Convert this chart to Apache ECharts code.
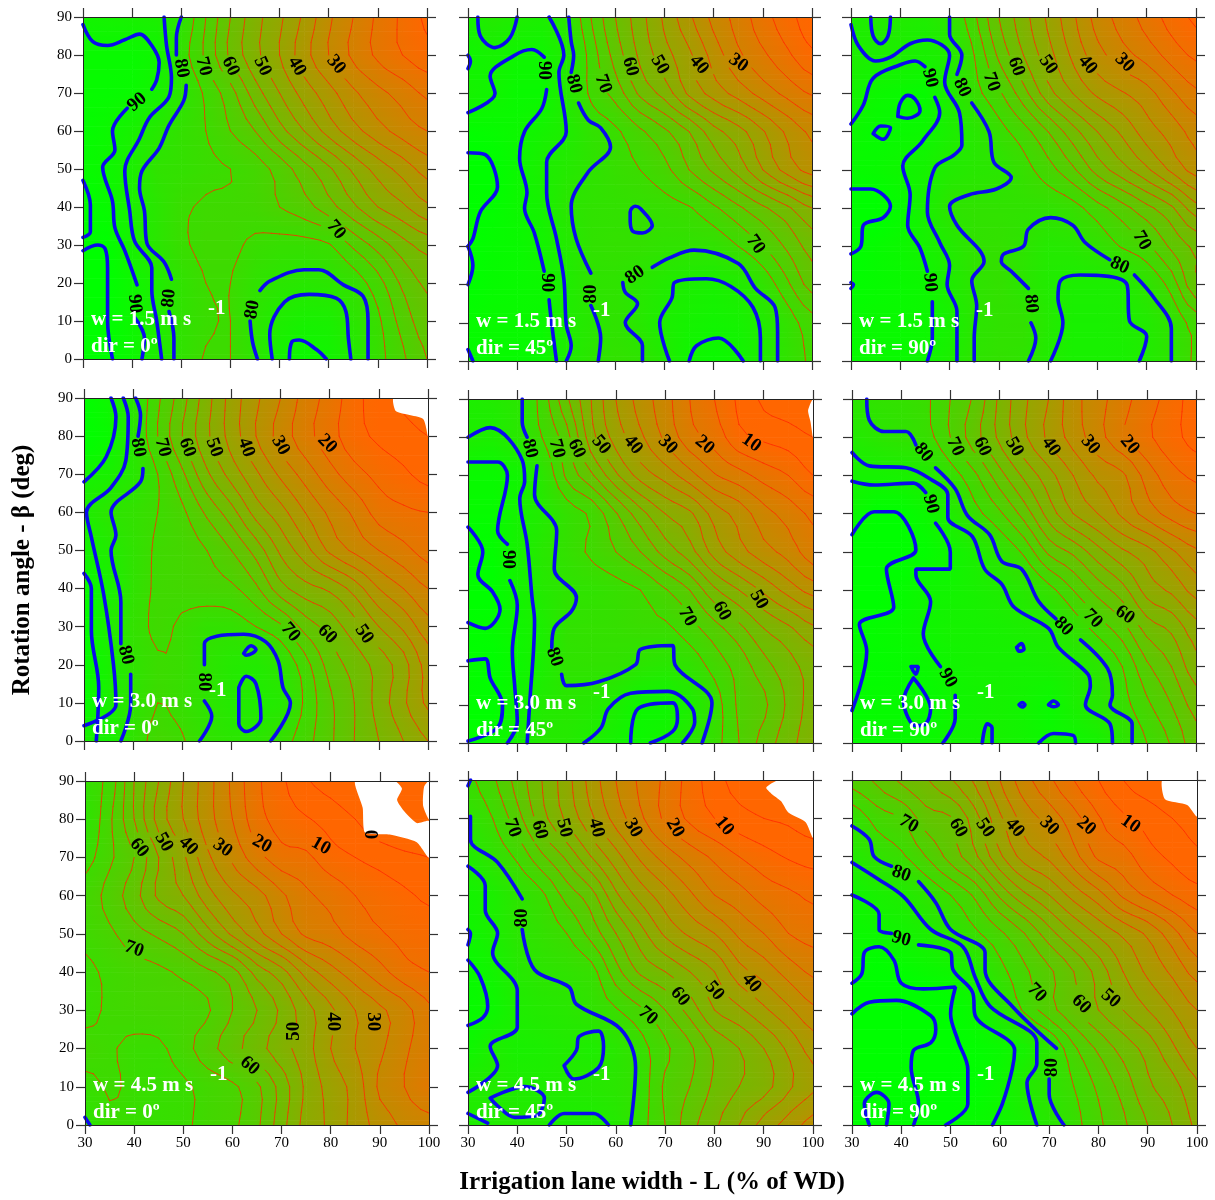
<!DOCTYPE html>
<html><head><meta charset="utf-8">
<script src="https://cdn.jsdelivr.net/npm/echarts@6/dist/echarts.min.js"></script>
<style>html,body{margin:0;background:#fff}#c{width:1215px;height:1200px}</style></head>
<body><div id="c"></div>
<script>
// Value grids: rows at beta = 90..0, columns at L = 30..100
const widths=[30,35,40,45,50,55,60,65,70,75,80,85,90,95,100];
const angles=[90,80,70,60,50,40,30,20,10,0];
const xTicks=[30,40,50,60,70,80,90,100];
const yTicks=[0,10,20,30,40,50,60,70,80,90];
const windSpeeds=['1.5','1.5','1.5','3.0','3.0','3.0','4.5','4.5','4.5'];
const windDirs=['0','45','90','0','45','90','0','45','90'];

const field1=[
[89,88,87,86,80,70,60,52,46,39,31,25,19,14,9],
[92,92,92,90,78,69,59,51.5,45,37,30,24,19,15,12],
[93,93,92,88,81,74,67,57.5,50,43,37,31,26.5,23,19],
[94,91,87,83,78,75,70,65,57,50,43,37,32,28,25],
[93,90.5,86,79,78,76,75,72.5,68,62,56,49,43,38,33],
[97,92,86,81,76,74.5,74,73,70,67,62,56,50,46,41],
[96,95,87,81,76,74,74,76,77,77,75.5,69,63,57,53],
[96,95,90.5,85,79,75,75,79,81,82,81,78,72,64,59],
[97,95.5,90.5,86,79,76,75,80.5,85,87,86.5,81,76,68,62],
[98,96,91,85,79,74.5,75,80,88,92,89,84,77,71,65]];
const field2=[
[87,83,85,86,81,70,60,52,44,36,28.5,23,17,12,7],
[90,88,90,90,84,73,63,54,47,41,33,26,21,16,11],
[88,89.5,92,92,83,74,68,59,53,44,38,33,28,23.5,19.5],
[94,93,91,88,85,79,76,71,66,60,52,47,40.5,34,29],
[98,95.5,91,86,83,80,77,75,71.5,65,59,53,45,38,33],
[98,94,91,88,81,79,78.5,78,77,75.5,71,66,61,56,50],
[95,93,92,89,84,79,78,78,79,79,79,75,70,64,58],
[95,93,92,91,85,80,79.5,82,84,86,87,85,79,71,63],
[93,92,92,92,85,82,79.5,82,86,88,89,88,84.5,78,72],
[94,93,93,92,85,81,78.5,79.5,84,90,92,90,84.5,79,74]];
const field3=[
[87,83,84,85,80,71,60,52,44,36,28,23,18,13,9],
[85.5,86,86,87,85,75,64,55,47,39,32,27,23,18,14],
[88,91,92,93,85,77,71,62,52,45,39,35.5,32,26,21],
[91,93,92,91,86,82,77,72,65,57,50,44,37.5,33,28],
[93,92,90,88,84,82,81,77,72,66,58,52,46,39,33],
[97,97,93,87,80,79,79,79,79,77,72,67,61.5,56,47],
[96,93,91,88,84,79,78,80,83,82,79,74.5,71,64,59],
[94,93,92,91,85,80,78,81,84,86,86,85.5,80,73,61],
[93,92,92,91,88,81,79,78.5,83,87,87,86,84,79,73],
[93,92,92,90.5,86,80,78.5,79.5,84.5,87,87,87,84.5,80,74]];
const field4=[
[97,90,81,71,62,52,43,36,30,23,18,12,7,4,2],
[98,92,81,70,60,51,43,35,28,22,17,12,9,7,5],
[88,87,82,75,66,56,48,41,34,28,22,17,13.5,11,8],
[85.5,80.5,78,75,71,64,57,48,42,35,29,24,18,16,15],
[89,84,79,74,72.5,70,65,58,49,42,34,29,25,21.5,18],
[93,88,79,74,73,72,71,66,57,52,49,43,35,30,25],
[96,84,78,74,76,78.5,78,75,71,63,58,52,45,39,32],
[93,87,79,75.5,76,80,83,84,80,72,63,58,53,47,38],
[94,86,80,75,77,80,83,85,83,74,66,60,53,46,39],
[86,88,79,73,74.5,79,81,81,77.5,72,66,60,55,50,45]];
const field5=[
[86,84,81.5,73,61,50,40,33,27,20,15,9,4,2,0],
[85,86,81.5,75,67,52,43,36,29,22,18,11.5,9,7.5,5],
[92,92,90,81,69,61,51,43,38,32,25.5,22,18,15,10],
[93,93,88,84,78,74,65.5,57,50,46,38,33,27,23,19],
[98,94,88,82,78,74,70,65,58,52,43,37,32,28,22],
[99,96,89,83,80,79,77,75,70.5,65,56,50,44,38,33],
[97,93,90,86,79,78,77.5,76,76,72,67,61.5,55,51,46],
[93,96,91,86,79.5,79,79,81,82,79,73,68,62,57,53],
[95,96,90,84,82,83,85.5,90.5,91,86,78,69,66,59,53],
[95,92,88,83,83,85.5,88,91,88,82,77,70,63,57,52]];
const field6=[
[81,79,78,76,70,64,54,46,40,32,27,22,17,13,7],
[84,81,79,77,70,62,54,46,39,33,27,21,16,12,8],
[88,88,87,85,78,71,62,54,47,40,34,31,23,17,14],
[91,95.5,95,91,85,77,71,63,53,45,40,34,28,23,20],
[97,97,97,94,90,86,80,74,64,59,52,46,42,36,31],
[97,97,93.5,90,89,87,85,82,77,70,63,57,48,44,38],
[96,93,92,90,88,88,87,86,85,79,73,67,58,54,47],
[93,94,93,91.5,89.5,88,88,88,87,85.5,81,75,66,60,52],
[95,93,93,94,90.5,89,88,89,92,86.5,82,77,71,65,58],
[93,93,93,92,89,89,88,89,91,90.5,88,81,75,69.5,62]];
const field7=[
[78,73,60,50,40,32,24,16,11,5.5,3,0,0,0,0],
[80,71,60,48,40,32,25,17,13,10.5,8,5,1,0.5,3],
[77,71,65,55,46,36,29,22,17,16,12,10,8,6,5],
[73,68,62,54,50,42,36,32,26,21,18.5,15,13,11,9],
[74,71,67,64,60,52,44,37,30,24,22,18,15.5,13.5,12.5],
[76,74,72,71,69,66,62,53,47,38,32,27,22,17,15],
[77,74,73,72,72,70.5,65,60,54,47,41,35,31,27,21],
[73,74.5,76,76,72,67,62,57,52,47,40,35,31,26,22],
[77,74.5,76,77,76,73,71,66,58,49,43,38,29,25,20],
[81,76,77,77,76,73,71,66,57,48,44,38,33,29,27]];
const field8=[
[76,71,63,55,47,38,30,24,19,13,7,3,1,0,0],
[80,75,67,57,49,41,33,26,19,14,10,7,5,4,2],
[85,79,74,66,59,50,42,34,28,23,19,15,12,9.5,8],
[89,86,80,76,68,62,51,43,37,31,25,22,18,16,14],
[90,86,81,78,75,68,60,52,44,39,35,29,25,20,18],
[93,89,83,80.5,79,77,67,59,55,50,45,37,33,28,24],
[93,91,85,83,82,79,75.5,71,65,58,50,46,41,36,31],
[91,85,87,86,84,85.5,81.5,77,71,66,59,55,50,44,38],
[84,84,85,85,84,82.5,81,78,69,65,59,55,52,46,41],
[85,84.5,83,84,86,86,83,77,70,62,56,50,43,38,33]];
const field9=[
[68,64,59,55.5,50.5,44,35,27,21,15,10,5,2,0,0],
[79,73,70,62.5,60.5,52,41,33,28,22,15.5,11,8,5,3],
[84,79,76,70,63,56,46,38,34,27,19,17,12,9,6],
[90,87,85,80,75,69,59,51,45,38,32,24,19,15,12],
[92,90.5,89,86,81,76,71,65,57,50,44,39,34,27,20],
[94,96.5,94,92,90.5,85.5,77,71,66,60,53,45,39,34,28],
[100,102,102,99,95.5,91,83,74,67,61,55,50,45,40,35],
[98,98,100,98,97,94,92,88,81,71,64,58,53,46,40],
[97,100,100,98,97,95,91,84,80,75,69,63,56,52,46],
[96,100,98,100,95,92,90.5,87,82,77,71,66,60,55,49]];

// Thick contour lines (levels 80 and above), flat lists of L, beta pairs
const blue1=[
[30,88,32,83.5,35,82.5,38.5,84,41.5,85.5,44,82.5,45.5,78,45,73.5,44,71],
[39,66,36,60,36.5,55,34,50.5,36,41.5,36.5,34.5,38.5,28.5,41,19.5],
[40.5,11,42.5,5.5,42,0],
[46.5,90,47,82.5,48,74,47.5,69,43.5,63.5,41.5,58,38.5,49.5,39.5,39,40.5,31,44,24,44,18,45,10,46,0],
[50,90,49,84.5,49,80],
[51,72,50.5,68,47.5,61.5,45.5,55.5,42,49.5,41.5,45,42.5,39,43,30.5,46.5,25.5,48,21],
[47.5,12.5,48.5,5.5,48.5,0],
[66,18,68,20.5,75,23.5,78,23.5,83,19.5,87,16.5,88,10,88,0],
[64,10,64.5,4.5,65.5,0],
[68.5,0,68,6.5,71,15,76,17,81.5,16,83.5,12.5,84,5.5,84.5,0],
[72,0,72.5,4.5,74,5,77.5,2.5,79.5,0],
[30,47,31.5,40.5,31.5,33.5,30,32],
[30,28.5,33,30,34.5,29,35,24,35,10,36,0]];
const blue2=[
[30,65,35.5,70,34.5,74.5,39.5,80,43,81.5,45.5,79.5],
[46,71,45,66,41.5,60,40.5,53,42,44,41.5,40,43.5,33.5,45.5,23.5],
[46.5,16,47,10,48,0],
[46.5,90,49.5,80,48.5,75.5,50,60,46,52,46,44,48,32,49.5,21.5,50,9.5,51,4,50,0],
[50.5,90,51,83.5,51.5,80,51,75.5],
[52.5,67.5,54.5,63,57,61,59,56,54.5,49.5,51,40.5,52,32,55,23],
[55,14.5,57,6,56.5,0],
[30,54.5,33.5,54,36,45.5,32.5,39,31,32,30,30],
[30,30,31,25,30,20],
[32,90,32.5,85,35.5,82,38.5,84.5,40,90],
[30,80,30.5,78.5,30,76.5],
[63,36.5,63,39,64,40.5,65,40,67.5,35.5,65.5,33.5,63.5,34,63,36.5],
[67.5,24.5,71,27,76,29,85,25.5,88.5,19,92.5,14,93,7.5,93,0],
[61.5,20.5,62,18,64.5,15,62,10,65.5,4,65.5,0],
[71,0,69,10,71.5,16.5,72,20.5,78.5,21.5,83.5,19.5,88,14,89.5,6,89.5,0],
[75,0,76.5,4,81,6,86,0],
[30,3,31,0]];
const blue3=[
[34,90,34.5,85,36,83,37.5,85,38,90],
[30,88,31.5,82.5,35,78.5,38,79.5,42,83,45.5,84,50,80,49,73,52,65,52.5,56.5,51,54,47,50.5,45.5,39,48,31,50,25,49.5,20,51.5,13,51.5,0],
[30,62,32.5,67,34.5,74,40,77.5,43,78.5,45,77],
[47,69,48,65,44.5,57.5,40.5,51,42,43.5,41.5,35.5,44,29.5,45.5,23.5],
[46.5,15.5,46.5,6,45.5,0],
[50,90,50,85.5,52.5,80,51.5,75],
[54.5,67.5,58,60,59,52,62.5,48,59.5,45,54,43.5,50,40.5,51.5,35.5,57,26,54.5,21,55.5,14.5,55,6,55,0],
[39.5,64,40,67.5,41.5,69.5,43,68.5,44,65.5,41.5,63.5,39.5,64],
[34.5,59.5,36,61.5,38,61,36.5,58,34.5,59.5],
[30,45,34,45,38,40.5,36.5,37.5,32.5,35.5,32,30,30,28],
[82.5,26.5,77.5,31,75,35.5,70.5,37.5,66,34.5,65,30,61,28,60.5,26,62.5,23.5,66,19],
[66.5,10,67.5,6,66,0],
[87.5,22.5,91.5,16.5,95,8.5,95,0],
[70.5,0,73,10,72,16.5,72.5,21,76.5,22.5,86,20,86.5,10.5,90,6.5,88.5,0],
[30,20.5,30.5,20,30,19]];
const blue4=[
[35.5,90,36.5,85,34.5,74.5,30,68],
[38,90,39,85,38.5,73.5,35.5,66.5,30.5,60,31.5,53.5,34,38.5,36,20,36.5,9.5,30,4],
[40.5,90,41.5,85.5,41,80],
[42,71.5,41.5,68,35.5,60,36.5,54,35.5,50,37.5,36.5,37.5,25.5],
[39.5,17.5,39.5,9.5,37.5,0],
[30,44,31.5,40,31.5,29,33,14,32.5,0],
[54.5,20,54.5,25.5,57,27.5,62.5,28,67,26,69.5,21,70.5,14,72,10,68,0],
[54.5,10.5,56,6.5,53.5,0],
[61.5,14,63,17,65,15,66,6,63,2.5,61.5,4.5,61.5,10.5,61.5,14],
[62.5,23,64,25,65,24,63,22.5,62.5,23]];
const blue5=[
[30,80,34.5,82.5,41,74,41.5,68.5,40.5,64,42,52,43,38,43.5,32,42.5,10,42,0],
[30,73.5,36,73.5,38,70,36,55.5,38,52],
[38.5,42.5,40,36,39,24,39.5,14.5,40,5.5,38,0],
[30,56.5,33,50,32,44,35,39.5,36.5,35,33.5,30,30,31.5],
[30,21.5,33.5,22,34.5,17,37,10,36,4,30,0.5],
[41,90,41,84,42,80],
[44,72.5,43.5,65,48,55.5,47.5,45.5,52,38,51,34.5,47.5,30,47,25],
[49,18,50,15,56.5,16,64,20.5,65,24.5,71.5,25.5,72,20.5,79.5,10.5,77.5,0],
[53.5,0,57,4,58.5,9,63,13,70.5,13.5,75.5,9,76,5.5,73.5,0],
[63,0,64.5,9,71.5,10.5,72.5,6.5,71.5,3,67,0]];
const blue6=[
[33,90,33.5,84.5,36.5,81.5,41,81.5,43,78],
[47,72,51,66.5,53.5,59.5,58,54.5,60.5,47.5,64.5,45.5,68,37,71.5,32.5],
[76.5,27,82,19.5,83,12.5,82.5,10,87,5,87,0],
[30,76,33.5,72.5,41,72,46,69,49.5,65,49.5,59,54.5,54,57,45.5,60.5,41.5,63,35.5,70,30,72,25,78,18,78.5,15,77.5,10,82.5,5,83,0],
[30,68.5,34.5,67.5,42.5,68,45,65.5],
[47,57.5,50,50,50,45.5,43,45.5,43,44,46,37,44.5,28.5,48,20],
[51,12.5,51,6.5,48.5,0],
[30,54.5,34.5,60.5,38.5,60.5,43,50.5,37,45.5,38.5,35.5,31.5,31,33,24,30,8.5],
[42,20,43.5,20,43,18,42,20],
[42.5,17,40.5,11,43,4.5,45,5,46,9,42.5,17],
[63.5,25,64.5,26,65,24.5,64,24,63.5,25],
[64,10,64.6,10.6,65.2,10,64.6,9.4,64,10],
[70,10,71,11,72,10,71,9.5,70,10],
[56.5,0,57.5,5,58.5,4,58.5,0],
[68,0,71,2.5,75,2,75.5,0]];
const blue7=[[30,2,31,0]];
const blue8=[
[30,88.5,30.5,90],
[30.5,80.5,30.5,74.5,36,68.5,41,59],
[41,51,43.5,40.5,50.5,36,52,31.5,61,25,64,15,63,0],
[30,67.5,33.5,62.5,33.5,56,36,50,35,45,40,35,40,25.5,34.5,20.5,36,15.5,30,8.5],
[30,43,32.5,38.5,34,31,33,28,30,26],
[30,51,30.5,50,30,47],
[49.5,15.5,52,19.5,52.5,23,56.5,24.5,57.5,20.5,56.5,15,51.5,12,49.5,15.5],
[34.5,7,41.5,10,45.5,7,44,2.5,39.5,2,36,5,34.5,7],
[30,3,34,0.5],
[46.5,0,49.5,3,55.5,3,58.5,0]];
const blue9=[
[30,78,33.5,74.5,34.5,70,38,67.5],
[43.5,63.5,47,58,50,51,57,45,57,40.5,62.5,31,71.5,20],
[70,12,70,8,73,0],
[30,68.5,35.5,64,40.5,59.5,46,51,52.5,46.5,55,38.5,58,31,67.5,21.5,67.5,16,65.5,11,67.5,0],
[30,60,35.5,55,35.5,51,38,50],
[43.5,47,50,45,50.5,40.5,54.5,34.5,55,28.5,63,19.5,62.5,14.5,60.5,5.5,58.5,0],
[30,37,32,39.5,32.5,45,35.5,46.5,38.5,43,40,37,44.5,35.5,51,36,50,29,51.5,22,53.5,14.5,53.5,5.5,49,0],
[30,29,33.5,32,39,32.5,46,28.5,47,25,46,21.5,42.5,19.5,42,15,43.5,5.5,42.5,0],
[33.5,0,32.5,5.5,35,8.5,37.5,5.5,37,0]];

// Contour labels: L, beta, text, rotation in degrees
const labels1=[[41,67.6,'90',40],[50,76.5,'80',-80],[54.5,77,'70',-75],[60,77,'60',-65],[66.5,77,'50',-65],[73.5,77,'40',-60],[81.5,77.5,'30',-50],[81.5,34,'70',-50],[40.5,14.5,'90',-85],[47.5,16,'80',85],[64.5,13,'80',80]];
const labels2=[[45.5,76,'90',-90],[51.5,72.5,'80',-75],[57.5,72.5,'70',-70],[63,77,'60',-75],[69,77.5,'50',-60],[77,77.5,'40',-50],[85,78,'30',-35],[88.5,30.5,'70',-55],[46,20.5,'90',-90],[55,17.5,'80',90],[64,22.5,'80',35]];
const labels3=[[46,74,'90',-75],[52.5,71.5,'80',-65],[58.5,73,'70',-70],[63.5,77,'60',-70],[70,77.5,'50',-55],[78,77.5,'40',-50],[85.5,78,'30',-45],[89,31.5,'70',-60],[84.5,25,'80',-25],[46,20.5,'90',-85],[66.5,15,'80',-85]];
const labels4=[[41,77,'80',-80],[46,77,'70',-75],[51,77,'60',-70],[56.5,77,'50',-70],[63,77,'40',-70],[70,77.5,'30',-60],[79.5,78,'20',-45],[72,28.5,'70',-50],[79.5,28,'60',-45],[87,28,'50',-55],[38.5,22.5,'80',-75],[54.5,15.5,'80',-90]];
const labels5=[[42.5,77,'80',-75],[48,77,'70',-75],[52,77,'60',-65],[57,78,'50',-50],[63.5,78,'40',-50],[70.5,78,'30',-45],[78,78,'20',-40],[87.5,78.5,'10',-35],[38,48,'90',-90],[74.5,33,'70',-60],[81.5,34.5,'60',-60],[89,37.5,'50',-60],[47.5,22.5,'80',-70]];
const labels6=[[44.5,76,'80',-50],[51,77.5,'70',-65],[56.5,77.5,'60',-65],[63,77.5,'50',-60],[70.5,77.5,'40',-55],[78.5,78,'30',-50],[86.5,78,'20',-50],[46,62.5,'90',-75],[73,30.5,'80',-45],[79,32.5,'70',-45],[85.5,33.5,'60',-35],[49.5,17,'90',-60]];
const labels7=[[41,72.5,'60',-50],[46,74,'50',-60],[51,73,'40',-45],[58,72.5,'30',-35],[66,73.5,'20',-30],[78,73,'10',-30],[88,76,'0',-90],[40,46,'70',-20],[63.5,15.5,'60',-40],[72.5,24.5,'50',90],[80.5,27,'40',-90],[88.5,27,'30',-90]];
const labels8=[[39,77.5,'70',-70],[44.5,77,'60',-75],[49.5,77.5,'50',-75],[56,77.5,'40',-75],[63.5,77.5,'30',-60],[72,77.5,'20',-60],[82,78,'10',-50],[41,54,'80',90],[66.5,28.5,'70',-40],[73,33.5,'60',-50],[80,35,'50',-50],[87.5,37,'40',-50]];
const labels9=[[41.5,78.5,'70',-30],[51.5,77.5,'60',-60],[57,77.5,'50',-55],[63,77.5,'40',-50],[70,78,'30',-45],[77.5,78,'20',-40],[86.5,78.5,'10',-35],[40,65.5,'80',-20],[40,48.5,'90',-15],[67.5,34.5,'70',-45],[76.5,31.5,'60',-45],[82.5,33,'50',-40],[70.5,15,'80',90]];

// Areas left empty in the plot (values under 0), L, beta pairs
const blank4=[[93,90,93.5,86.5,99,84.5,100,80,100,90]];
const blank5=[[100,90,99,87,99.5,84,100,80]];
const blank7=[[85,90,86.5,83,87,76.5,92,76,97.5,74,100,70,100,79.5,97.5,79,95,82,93.5,85,94.5,88,93,90],[100,90,99,88.5,98.8,83.5,100,80]];
const blank8=[[93,90,90.5,88,91.5,86.5,93.5,84.5,95,81.5,98.5,79,100,75,100,90]];
const blank9=[[93,90,93.5,85,98,83.5,100,80.5,100,90]];

const fields=[field1,field2,field3,field4,field5,field6,field7,field8,field9];
const blues=[blue1,blue2,blue3,blue4,blue5,blue6,blue7,blue8,blue9];
const labelSets=[labels1,labels2,labels3,labels4,labels5,labels6,labels7,labels8,labels9];
const blanks=[[],[],[],blank4,blank5,[],blank7,blank8,blank9];
const redLevels=[5,10,15,20,25,30,35,40,45,50,55,60,65,70,75];

// panel rectangles
const boxes=[[83,17,344,342],[468,17,344,344],[851,17,345,344],
             [84,398,344,343],[468,399,345,344],[852,399,344,344],
             [85,781,344,344],[468,780,345,345],[852,780,345,345]];
const SERIF='"Liberation Serif","Times New Roman",serif';

function colorOf(v){const t=Math.max(0,Math.min(1,(v-10)/85));
  return 'rgb('+Math.round(255*(1-t))+','+Math.round(102+153*t)+',0)';}

function cr(a,b,c,d,t){return b+0.5*t*(c-a+t*(2*a-5*b+4*c-d+t*(3*(b-c)+d-a)));}
function sampleField(F,r,c){
  const R=F.length-1,C=F[0].length-1,r0=Math.min(Math.floor(r),R-1),c0=Math.min(Math.floor(c),C-1),tr=r-r0,tc=c-c0;
  const g=(i,j)=>F[Math.max(0,Math.min(R,i))][Math.max(0,Math.min(C,j))];
  const row=i=>cr(g(i,c0-1),g(i,c0),g(i,c0+1),g(i,c0+2),tc);
  return cr(row(r0-1),row(r0),row(r0+1),row(r0+2),tr);
}
const REF=3;
function refine(F){const out=[];for(let i=0;i<=9*REF;i++){const a=[];for(let j=0;j<=14*REF;j++)a.push(sampleField(F,i/REF,j/REF));out.push(a);}return out;}
const refined=fields.map(refine);

function cellSegments(G,i,j,lev){
  const a=G[i][j],b=G[i][j+1],c=G[i+1][j+1],d=G[i+1][j];
  const pts=[];const cross=(p,q)=>(lev-p)/(q-p);
  if((a<lev)!==(b<lev))pts.push([j+cross(a,b),i]);
  if((b<lev)!==(c<lev))pts.push([j+1,i+cross(b,c)]);
  if((d<lev)!==(c<lev))pts.push([j+cross(d,c),i+1]);
  if((a<lev)!==(d<lev))pts.push([j,i+cross(a,d)]);
  const segs=[];
  if(pts.length>=2)segs.push([pts[0],pts[1]]);
  if(pts.length===4)segs.push([pts[2],pts[3]]);
  return segs;
}
const toL=j=>30+5*j/REF, toB=i=>90-10*i/REF;

const grids=[],xAxes=[],yAxes=[],series=[],graphics=[];
const axisLine={show:true,onZero:false,lineStyle:{color:'#222',width:1}};
const tick={show:true,length:9,lineStyle:{color:'#333',width:1.2}};
const lab={fontFamily:SERIF,fontSize:15,color:'#000'};
boxes.forEach((b,p)=>{
  grids.push({left:b[0],top:b[1],width:b[2],height:b[3]});
});
const baseX=(p,pos,show)=>({type:'value',gridIndex:p,position:pos,min:30,max:100,interval:10,z:10,axisLine,axisTick:tick,splitLine:{show:false},axisLabel:Object.assign({show,margin:11},lab)});
const baseY=(p,pos,show)=>({type:'value',gridIndex:p,position:pos,min:0,max:90,interval:10,z:10,axisLine,axisTick:tick,splitLine:{show:false},axisLabel:Object.assign({show,margin:11},lab)});
boxes.forEach((b,p)=>{xAxes.push(baseX(p,'bottom',p>=6));yAxes.push(baseY(p,'left',p%3===0));});
boxes.forEach((b,p)=>{xAxes.push(baseX(p,'top',false));yAxes.push(baseY(p,'right',false));});

boxes.forEach((b,p)=>{
  const F=fields[p],G=refined[p];
  const cells=[];for(let i=0;i<9;i++)for(let j=0;j<14;j++)cells.push([widths[j],angles[i],i,j]);
  // shaded surface
  series.push({type:'custom',xAxisIndex:p,yAxisIndex:p,z:1,silent:true,clip:true,progressive:0,animation:false,data:cells,
    renderItem(params,api){
      const i=api.value(2),j=api.value(3),kids=[],N=8;
      const x0=api.coord([widths[j],0])[0],x1=api.coord([widths[j+1],0])[0];
      const y0=api.coord([30,angles[i]])[1],y1=api.coord([30,angles[i+1]])[1];
      for(let s=0;s<N;s++){
        const t=(s+0.5)/N;
        const vl=F[i][j]*(1-t)+F[i+1][j]*t, vr=F[i][j+1]*(1-t)+F[i+1][j+1]*t;
        const ya=y0+(y1-y0)*s/N, yb=y0+(y1-y0)*(s+1)/N;
        kids.push({type:'rect',shape:{x:x0,y:ya,width:x1-x0+0.6,height:yb-ya+0.6},
          style:{fill:{type:'linear',x:0,y:0,x2:1,y2:0,colorStops:[{offset:0,color:colorOf(vl)},{offset:1,color:colorOf(vr)}]}}});
      }
      return {type:'group',children:kids};
    }});
  // thin contours computed from the value grid
  const labs=labelSets[p];
  series.push({type:'custom',xAxisIndex:p,yAxisIndex:p,z:2,silent:true,clip:true,progressive:0,animation:false,data:cells,
    renderItem(params,api){
      const I=api.value(2),J=api.value(3),kids=[];
      const lp=labs.map(l=>{const q=api.coord([l[0],l[1]]);return [q[0],q[1],l[3]*Math.PI/180];});
      for(let i=I*REF;i<(I+1)*REF;i++)for(let j=J*REF;j<(J+1)*REF;j++)for(const lev of redLevels){
        for(const s of cellSegments(G,i,j,lev)){
          const A=api.coord([toL(s[0][0]),toB(s[0][1])]),B=api.coord([toL(s[1][0]),toB(s[1][1])]);
          const mx=(A[0]+B[0])/2,my=(A[1]+B[1])/2;
          let hide=false;
          for(const q of lp){const dx=mx-q[0],dy=my-q[1];
            const al=dx*Math.cos(q[2])-dy*Math.sin(q[2]),ac=dx*Math.sin(q[2])+dy*Math.cos(q[2]);
            if(Math.abs(al)<14&&Math.abs(ac)<9){hide=true;break;}}
          if(!hide)kids.push({type:'line',shape:{x1:A[0],y1:A[1],x2:B[0],y2:B[1]},style:{stroke:'#ff2a00',lineWidth:0.8,lineCap:'round'}});
        }
      }
      return {type:'group',children:kids};
    }});
  // empty areas
  if(blanks[p].length){
    series.push({type:'custom',xAxisIndex:p,yAxisIndex:p,z:3,silent:true,clip:true,animation:false,
      data:blanks[p].map((a,k)=>[a[0],a[1],k]),
      renderItem(params,api){
        const a=blanks[p][api.value(2)],pts=[];
        for(let k=0;k<a.length;k+=2)pts.push(api.coord([a[k],a[k+1]]));
        return {type:'polygon',shape:{points:pts,smooth:0.2},style:{fill:'#fff'}};
      }});
  }
  // thick contours
  blues[p].forEach(a=>{
    const d=[];for(let k=0;k<a.length;k+=2)d.push([a[k],a[k+1]]);
    series.push({type:'line',xAxisIndex:p,yAxisIndex:p,z:4,silent:true,animation:false,clip:true,showSymbol:false,symbol:'none',smooth:0.35,
      lineStyle:{color:'#0a0aee',width:3.6,cap:'round'},data:d});
  });
  // contour labels
  series.push({type:'custom',xAxisIndex:p,yAxisIndex:p,z:5,silent:true,clip:false,animation:false,
    data:labs.map((l,k)=>[l[0],l[1],k]),
    renderItem(params,api){
      const l=labs[api.value(2)],q=api.coord([l[0],l[1]]);
      return {type:'text',x:q[0],y:q[1],rotation:l[3]*Math.PI/180,
        style:{text:l[2],x:0,y:0,align:'center',verticalAlign:'middle',fill:'#000',font:'bold 19px '+SERIF}};
    }});
  // wind annotation
  const tx=b[0]+8,by=b[1]+b[3];
  graphics.push({type:'text',z:20,x:tx,y:by-39,style:{text:'w = '+windSpeeds[p]+' m s',fill:'#fff',font:'bold 21px '+SERIF,verticalAlign:'middle'}});
  graphics.push({type:'text',z:20,x:tx+117,y:by-50,style:{text:'-1',fill:'#fff',font:'bold 21px '+SERIF,verticalAlign:'middle'}});
  graphics.push({type:'text',z:20,x:tx,y:by-12,style:{text:'dir = '+windDirs[p]+'º',fill:'#fff',font:'bold 21px '+SERIF,verticalAlign:'middle'}});
});
graphics.push({type:'text',z:20,x:652,y:1183,style:{text:'Irrigation lane width - L (% of WD)',fill:'#000',font:'bold 25px '+SERIF,align:'center',verticalAlign:'middle'}});
graphics.push({type:'text',z:20,x:23,y:570,rotation:Math.PI/2,style:{text:'Rotation angle - β (deg)',fill:'#000',font:'bold 25px '+SERIF,align:'center',verticalAlign:'middle'}});

const chart=echarts.init(document.getElementById('c'),null,{renderer:'canvas'});
chart.setOption({animation:false,backgroundColor:'#fff',grid:grids,xAxis:xAxes,yAxis:yAxes,series,graphic:graphics});
</script></body></html>
